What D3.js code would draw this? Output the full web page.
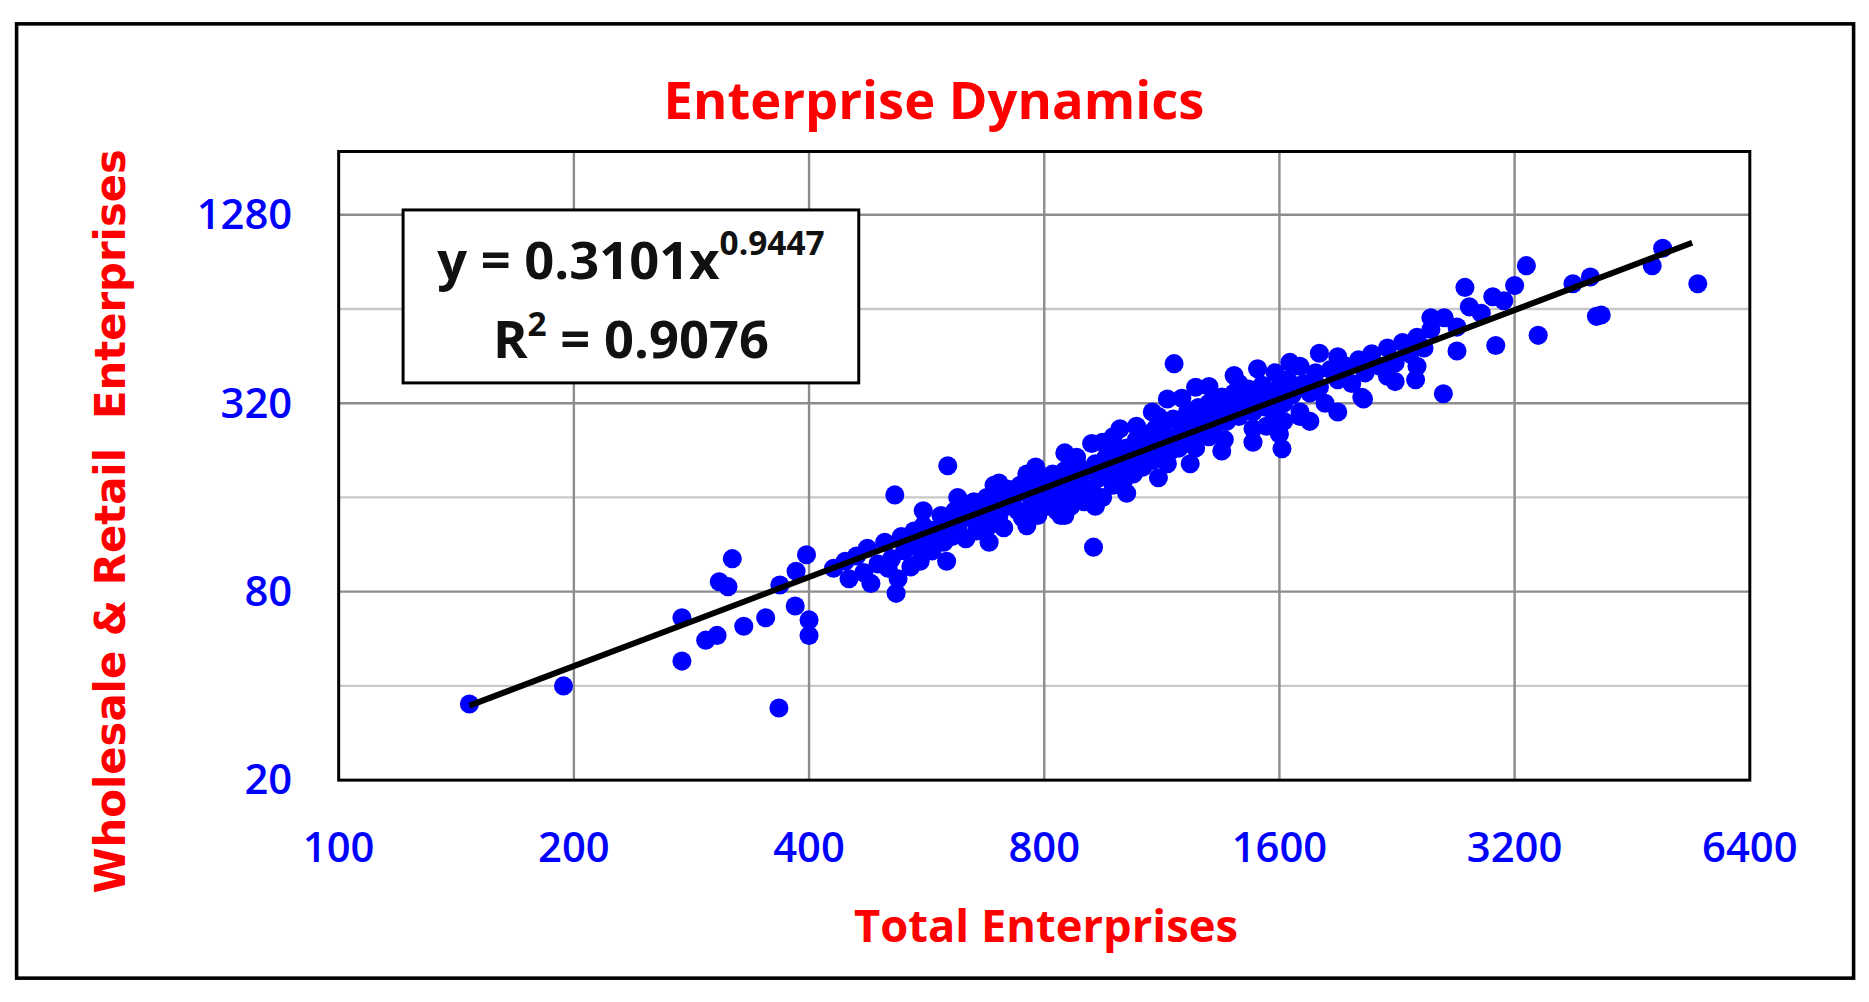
<!DOCTYPE html>
<html><head><meta charset="utf-8">
<script src="https://cdn.jsdelivr.net/npm/d3@7"></script>
<style>body{margin:0;background:#fff}</style>
</head><body><div id="chart"></div>
<script>
var xTicks = [100, 200, 400, 800, 1600, 3200, 6400];
var yTicks = [20, 80, 320, 1280];
var yMinor = [40, 160, 640];
var fitA = 0.3101, fitB = 0.9447, fitRange = [147, 5400];

// [total, wholesale&retail]
var points = [
 [147,35],[194,40],[275,48],[275,66],[295,56],[305,58],[319,102],[307,86],[315,83],[330,62],
 [352,66],[366,34],[400,58],[400,65],[384,72],[367,84],[385,93],[397,105],[517,79],[515,163],
 [602,202],[925,111],[1173,428],[1612,229],[3313,880],[3430,527],[3027,489],[2594,343],[2764,750],
 [4073,606],[4130,612],[5490,770],[4950,1000],[4800,880],[3800,770],[4000,810],[2700,470],[2390,380],
 [2250,375],[2040,334],
 [430,95],[445,100],[450,88],[460,104],[470,92],[475,110],[480,85],[490,98],[500,115],[505,95],
 [510,102],[520,88],[525,120],[530,108],[540,96],[545,125],[550,112],[555,100],[560,130],[565,118],
 [575,108],[580,126],[590,140],[595,115],[600,132],[610,120],[615,145],[620,128],[630,150],[635,118],
 [640,138],[650,155],[655,125],[660,142],[670,135],[675,160],[680,130],[690,148],[695,165],[700,140],
 [705,155],[710,128],[720,170],[725,150],[730,160],[740,145],[745,175],[750,138],[760,165],[765,180],
 [770,150],[780,172],[785,140],[790,185],[800,160],[805,175],[810,150],[820,190],[825,168],[830,145],
 [840,182],[845,160],[850,195],[860,172],[865,150],[870,188],[880,165],[885,200],[890,178],[900,155],
 [910,195],[920,170],[930,205],[940,185],[950,160],[960,215],[970,195],[980,175],[990,225],[1000,205],
 [1010,180],[1020,230],[1030,210],[1040,190],[1050,245],[1060,220],[1070,200],[1080,255],[1090,230],[1100,210],
 [1110,265],[1120,240],[1130,215],[1140,275],[1150,250],[1160,225],[1170,285],[1180,245],[1190,230],[1200,270],
 [1220,300],[1230,250],[1250,280],[1260,310],[1270,260],[1290,295],[1300,320],[1320,270],[1340,305],[1350,335],
 [1370,280],[1390,315],[1400,345],[1420,290],[1440,325],[1460,355],[1480,300],[1500,330],[1520,365],[1540,310],
 [1560,340],[1580,290],[1600,360],[1620,320],[1640,380],[1540,270],[1620,280],[1700,290],[1480,265],[1360,245],
 [1660,340],[1700,300],[1720,370],[1750,345],[1780,400],[1800,360],[1830,320],[1860,410],[1900,380],[1950,420],
 [1980,370],[2020,440],[2060,400],[2100,460],[2150,420],[2200,480],[2250,430],[2300,500],[2350,460],[2400,520],
 [2450,480],[2500,550],[2600,600],[2700,560],[2800,650],[2900,620],[3000,700],[3100,680],[3200,760],
 [950,240],[1050,270],[1120,290],[880,215],[760,190],[690,175],[1000,185],[1150,205],[1250,230],[850,140],
 [560,145],[620,160],[700,178],[780,200],[850,222],[920,238],[1000,265],[1100,300],[1200,332],[1300,362],
 [1400,392],[1500,412],[1650,432],[1800,462],[600,100],[680,115],[760,130],[840,140],[930,150],[1020,165],
 [1120,185],[1230,205],[1350,225],[1480,240],[1600,255],[1750,280],[1900,300],[2050,330],[1150,330],[1250,360],
 [980,250],[1080,215],[1300,250],[1420,370],[1580,400],[1700,420],[2200,390],[2400,420],[2500,600],[1900,450]
];

var W = 1565, H = 840;
var m = {left: 283, right: 1466, top: 127, bottom: 654};

var svg = d3.select("#chart").append("svg")
    .attr("width", 1869).attr("height", 1002)
    .attr("viewBox", "0 0 " + W + " " + H);

svg.append("rect").attr("x", 13).attr("y", 20).attr("width", 1540).attr("height", 800)
    .attr("fill", "#fff").attr("stroke", "#000").attr("stroke-width", 3);

var x = d3.scaleLog().base(2).domain([100, 6400]).range([m.left, m.right]);
var y = d3.scaleLog().base(2).domain([20, 20 * Math.pow(2, (m.bottom - m.top) / 79)]).range([m.bottom, m.top]);

var grid = svg.append("g");
grid.selectAll(".ym").data(yMinor).enter().append("line")
    .attr("x1", m.left).attr("x2", m.right).attr("y1", y).attr("y2", y)
    .attr("stroke", "#c8c8c8").attr("stroke-width", 2);
grid.selectAll(".yt").data(yTicks.slice(1)).enter().append("line")
    .attr("x1", m.left).attr("x2", m.right).attr("y1", y).attr("y2", y)
    .attr("stroke", "#8c8c8c").attr("stroke-width", 2);
grid.selectAll(".xt").data(xTicks.slice(1, -1)).enter().append("line")
    .attr("y1", m.top).attr("y2", m.bottom).attr("x1", x).attr("x2", x)
    .attr("stroke", "#8c8c8c").attr("stroke-width", 2);

svg.append("rect").attr("x", m.left).attr("y", m.top)
    .attr("width", m.right - m.left).attr("height", m.bottom - m.top)
    .attr("fill", "none").attr("stroke", "#000").attr("stroke-width", 2.5);

svg.append("g").selectAll("circle").data(points).enter().append("circle")
    .attr("cx", function (d) { return x(d[0]); })
    .attr("cy", function (d) { return y(d[1]); })
    .attr("r", 8).attr("fill", "#0000ff");

svg.append("line")
    .attr("x1", x(fitRange[0])).attr("y1", y(fitA * Math.pow(fitRange[0], fitB)))
    .attr("x2", x(fitRange[1])).attr("y2", y(fitA * Math.pow(fitRange[1], fitB)))
    .attr("stroke", "#000").attr("stroke-width", 5);

var tickFont = "Open Sans, sans-serif";
var narrow = "Liberation Sans Narrow, Open Sans, sans-serif";
svg.selectAll(".xl").data(xTicks).enter().append("text")
    .attr("x", x).attr("y", 723).attr("text-anchor", "middle")
    .attr("font-family", tickFont).attr("font-weight", 600).attr("font-size", 35).attr("fill", "#0000ff")
    .text(function (d) { return d; });
svg.selectAll(".yl").data(yTicks).enter().append("text")
    .attr("x", 244).attr("y", function (d) { return y(d) + 12; }).attr("text-anchor", "end")
    .attr("font-family", tickFont).attr("font-weight", 600).attr("font-size", 35).attr("fill", "#0000ff")
    .text(function (d) { return d; });

svg.append("text").attr("x", 782).attr("y", 100).attr("text-anchor", "middle")
    .attr("font-family", tickFont).attr("font-weight", "bold").attr("font-size", 44)
    .attr("fill", "#ff0000").text("Enterprise Dynamics");
svg.append("text").attr("x", 876).attr("y", 790).attr("text-anchor", "middle")
    .attr("font-family", tickFont).attr("font-weight", "bold").attr("font-size", 38)
    .attr("fill", "#ff0000").text("Total Enterprises");
svg.append("text").attr("transform", "translate(104,437) rotate(-90)").attr("text-anchor", "middle")
    .attr("font-family", "DejaVu Sans, sans-serif").attr("font-weight", "bold").attr("font-size", 35)
    .attr("fill", "#ff0000").attr("xml:space", "preserve")
    .text("Wholesale & Retail  Enterprises");

svg.append("rect").attr("x", 337).attr("y", 176).attr("width", 382).attr("height", 145)
    .attr("fill", "#fff").attr("stroke", "#000").attr("stroke-width", 2.5);
var eq = svg.append("text").attr("x", 528).attr("y", 234).attr("text-anchor", "middle")
    .attr("font-family", tickFont).attr("font-weight", "bold").attr("font-size", 44).attr("fill", "#111");
eq.append("tspan").text("y = " + fitA + "x");
eq.append("tspan").attr("dy", -20).attr("font-size", 28).text(fitB);
var r2 = svg.append("text").attr("x", 528).attr("y", 300).attr("text-anchor", "middle")
    .attr("font-family", tickFont).attr("font-weight", "bold").attr("font-size", 44).attr("fill", "#111");
r2.append("tspan").text("R");
r2.append("tspan").attr("dy", -18).attr("font-size", 28).text("2");
r2.append("tspan").attr("dy", 18).text(" = 0.9076");
</script></body></html>
